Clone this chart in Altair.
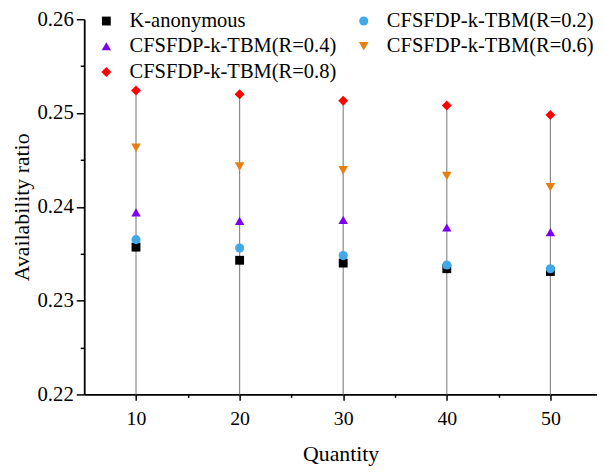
import altair as alt
import pandas as pd

quantity = [10, 20, 30, 40, 50]
series_names = [
    "K-anonymous",
    "CFSFDP-k-TBM(R=0.2)",
    "CFSFDP-k-TBM(R=0.4)",
    "CFSFDP-k-TBM(R=0.6)",
    "CFSFDP-k-TBM(R=0.8)",
]
k_anonymous = [0.2357, 0.2343, 0.2340, 0.2334, 0.2331]
r_02 = [0.2365, 0.2356, 0.2348, 0.2338, 0.2334]
r_04 = [0.2394, 0.2385, 0.2386, 0.2378, 0.2373]
r_06 = [0.2463, 0.2443, 0.2439, 0.2433, 0.2421]
r_08 = [0.2524, 0.2520, 0.2513, 0.2508, 0.2498]
x_ticks = [10, 15, 20, 25, 30, 35, 40, 45, 50]
y_ticks = [0.22, 0.225, 0.23, 0.235, 0.24, 0.245, 0.25, 0.255, 0.26]

colors = ["#000000", "#41a8ea", "#7b00f0", "#e67e10", "#ff0000"]
shapes = ["square", "circle", "triangle-up", "triangle-down", "diamond"]
sizes = [80, 100, 120, 120, 150]

all_values = [k_anonymous, r_02, r_04, r_06, r_08]
rows = []
for name, vals in zip(series_names, all_values):
    for q, v in zip(quantity, vals):
        rows.append({"Quantity": q, "Ratio": v, "Series": name})
df = pd.DataFrame(rows)

FONT = "Liberation Serif"

x_axis = alt.Axis(
    values=x_ticks,
    labelExpr="datum.value % 10 == 0 ? datum.label : ''",
    tickSize={"condition": {"test": "datum.value % 10 == 0", "value": 6}, "value": 3},
    grid=False,
    labelPadding=8,
    labelFontSize=20,
    titlePadding=16,
)
y_axis = alt.Axis(
    values=y_ticks,
    format=".2f",
    labelExpr="abs(datum.value * 100 - round(datum.value * 100)) < 0.01 ? datum.label : ''",
    tickSize={"condition": {"test": "abs(datum.value * 100 - round(datum.value * 100)) < 0.01", "value": 8}, "value": 4},
    grid=False,
    labelPadding=3,
    labelFontSize=21,
    titlePadding=4,
)
x_scale = alt.Scale(domain=[5, 54.5], nice=False, zero=False)
y_scale = alt.Scale(domain=[0.22, 0.26], nice=False, zero=False)

rules = (
    alt.Chart(df)
    .transform_aggregate(top="max(Ratio)", groupby=["Quantity"])
    .mark_rule(color="#8a8a8a", strokeWidth=1.2)
    .encode(
        x=alt.X("Quantity:Q", scale=x_scale, axis=x_axis, title="Quantity"),
        y=alt.Y("top:Q", scale=y_scale, axis=y_axis, title="Availability ratio"),
        y2=alt.datum(0.22),
    )
)

legend = alt.Legend(
    orient="none",
    legendX=12,
    legendY=-9,
    columns=2,
    direction="horizontal",
    title=None,
    labelFont=FONT,
    labelFontSize=20.7,
    labelColor="#000000",
    labelLimit=0,
    symbolSize=70,
    symbolStrokeWidth=0,
    columnPadding=17,
    rowPadding=4,
    labelOffset=13,
    padding=0,
)

points = (
    alt.Chart(df)
    .mark_point(filled=True, opacity=1, strokeWidth=0)
    .encode(
        x=alt.X("Quantity:Q", scale=x_scale, axis=x_axis, title="Quantity"),
        y=alt.Y("Ratio:Q", scale=y_scale, axis=y_axis, title="Availability ratio"),
        color=alt.Color("Series:N", scale=alt.Scale(domain=series_names, range=colors), legend=legend),
        shape=alt.Shape("Series:N", scale=alt.Scale(domain=series_names, range=shapes), legend=legend),
        size=alt.Size("Series:N", scale=alt.Scale(domain=series_names, range=sizes), legend=None),
    )
)

chart = (
    alt.layer(rules, points)
    .properties(
        width=518,
        height=379,
        autosize=alt.AutoSizeParams(type="none"),
        padding={"left": 77, "top": 9, "right": 0, "bottom": 70},
    )
    .configure_view(stroke=None)
    .configure_axis(
        domainColor="#000000",
        domainWidth=1.8,
        tickColor="#000000",
        tickWidth=1.5,
        labelFont=FONT,
        labelColor="#000000",
        titleFont=FONT,
        titleFontSize=22,
        titleFontWeight="normal",
        titleColor="#000000",
    )
)

chart.save("out.html", embed_options={"renderer": "svg", "actions": False})
